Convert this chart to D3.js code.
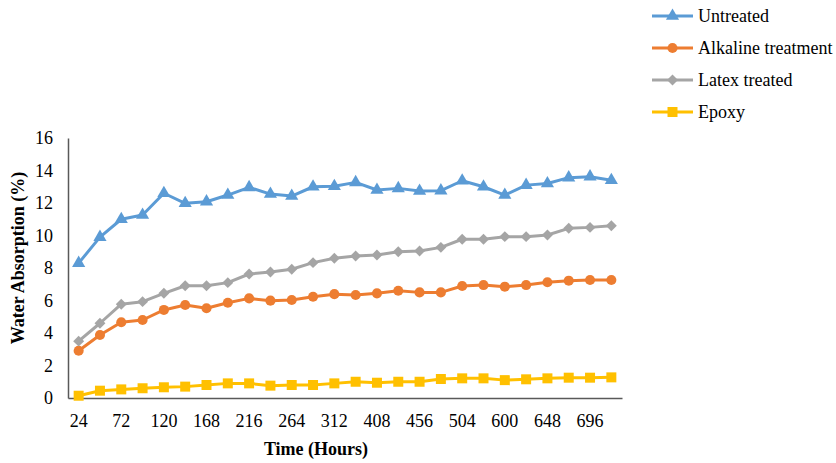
<!DOCTYPE html>
<html>
<head>
<meta charset="utf-8">
<script src="https://cdn.jsdelivr.net/npm/d3@7/dist/d3.min.js"></script>
<style>
  html, body { margin: 0; padding: 0; background: #fff; }
  svg text { font-family: 'Liberation Serif', 'Times New Roman', Times, 'DejaVu Serif', serif !important; }
</style>
</head>
<body>
<svg id="chart" width="836" height="463"></svg>
<script>
// Immersion time (hours), one entry per measurement
const hours = [24, 48, 72, 96, 120, 144, 168, 192, 216, 240, 264, 288, 312,
               360, 408, 432, 456, 480, 504, 552, 600, 624, 648, 672, 696, 720];

// Water absorption (%) for each treatment
const untreated = [8.3, 9.9, 11.0, 11.26, 12.6, 11.98, 12.08, 12.49, 12.96, 12.55, 12.43, 13.0, 13.03,
                   13.27, 12.8, 12.9, 12.74, 12.76, 13.37, 13.0, 12.49, 13.1, 13.2, 13.56, 13.62, 13.4];
const alkaline = [2.91, 3.88, 4.66, 4.8, 5.42, 5.72, 5.52, 5.86, 6.13, 5.99, 6.03, 6.23, 6.39,
                  6.34, 6.44, 6.6, 6.5, 6.5, 6.89, 6.95, 6.85, 6.95, 7.12, 7.22, 7.26, 7.26];
const latex = [3.5, 4.6, 5.77, 5.93, 6.44, 6.91, 6.91, 7.1, 7.63, 7.75, 7.92, 8.33, 8.6,
               8.74, 8.8, 9.0, 9.05, 9.27, 9.77, 9.77, 9.93, 9.93, 10.03, 10.44, 10.5, 10.6];
const epoxy = [0.14, 0.45, 0.53, 0.6, 0.66, 0.7, 0.8, 0.9, 0.9, 0.76, 0.8, 0.8, 0.9,
               1.0, 0.94, 1.0, 1.0, 1.17, 1.21, 1.21, 1.1, 1.15, 1.21, 1.25, 1.25, 1.27];

const seriesNames = ["Untreated", "Alkaline treatment", "Latex treated", "Epoxy"];
const yTicks = [0, 2, 4, 6, 8, 10, 12, 14, 16];

// Marker shapes: diamond is a square turned 45 degrees
const series = [
  { name: seriesNames[0], values: untreated, color: "#5B9BD5", symbol: d3.symbolTriangle, size: 75, rot: 0 },
  { name: seriesNames[1], values: alkaline,  color: "#ED7D31", symbol: d3.symbolCircle,   size: 80, rot: 0 },
  { name: seriesNames[2], values: latex,     color: "#A5A5A5", symbol: d3.symbolSquare,   size: 60, rot: 45 },
  { name: seriesNames[3], values: epoxy,     color: "#FFC000", symbol: d3.symbolSquare,   size: 100, rot: 0 }
];

const svg = d3.select("#chart");
const plot = { left: 68, right: 622, top: 138, bottom: 398 };

const x = d3.scaleBand().domain(hours).range([plot.left, plot.right]).padding(0);
const cx = h => x(h) + x.bandwidth() / 2;
const y = d3.scaleLinear().domain([0, 16]).range([plot.bottom, plot.top]);

const axisColor = "#595959";

// Y axis
const yAxis = svg.append("g")
  .attr("transform", `translate(${plot.left},0)`)
  .call(d3.axisLeft(y).tickValues(yTicks).tickSize(0).tickPadding(15).tickFormat(d3.format("d")));
yAxis.select(".domain").attr("stroke", axisColor).attr("stroke-width", 1.5);
yAxis.selectAll("text").attr("font-size", 18).attr("fill", "#000");

// X axis: every other label shown
const xAxis = svg.append("g")
  .attr("transform", `translate(0,${plot.bottom})`)
  .call(d3.axisBottom(x).tickValues(hours.filter((h, i) => i % 2 === 0)).tickSize(0).tickPadding(16));
xAxis.select(".domain").attr("stroke", axisColor).attr("stroke-width", 1.5);
xAxis.selectAll("text").attr("font-size", 18).attr("fill", "#000");

// Axis titles
svg.append("text")
  .attr("x", 316).attr("y", 455)
  .attr("text-anchor", "middle")
  .attr("font-size", 18).attr("font-weight", "bold")
  .text("Time (Hours)");

svg.append("text")
  .attr("transform", "translate(24,258) rotate(-90)")
  .attr("text-anchor", "middle")
  .attr("font-size", 18).attr("font-weight", "bold")
  .text("Water Absorption (%)");

// Series lines and markers
const line = d3.line().x((d, i) => cx(hours[i])).y(d => y(d));

series.forEach(s => {
  const g = svg.append("g");
  g.append("path")
    .attr("d", line(s.values))
    .attr("fill", "none")
    .attr("stroke", s.color)
    .attr("stroke-width", 3)
    .attr("stroke-linejoin", "round");
  g.selectAll("path.m")
    .data(s.values)
    .join("path")
    .attr("class", "m")
    .attr("d", d3.symbol().type(s.symbol).size(s.size))
    .attr("transform", (d, i) => `translate(${cx(hours[i])},${y(d)}) rotate(${s.rot})`)
    .attr("fill", s.color);
});

// Legend
const legend = svg.append("g");
series.forEach((s, i) => {
  const ly = 16 + i * 32;
  legend.append("line")
    .attr("x1", 652).attr("x2", 693).attr("y1", ly).attr("y2", ly)
    .attr("stroke", s.color).attr("stroke-width", 3);
  legend.append("path")
    .attr("d", d3.symbol().type(s.symbol).size(s.size))
    .attr("transform", `translate(672.5,${ly}) rotate(${s.rot})`)
    .attr("fill", s.color);
  legend.append("text")
    .attr("x", 698).attr("y", ly)
    .attr("dy", "0.35em")
    .attr("font-size", 18)
    .text(s.name);
});
</script>
</body>
</html>
